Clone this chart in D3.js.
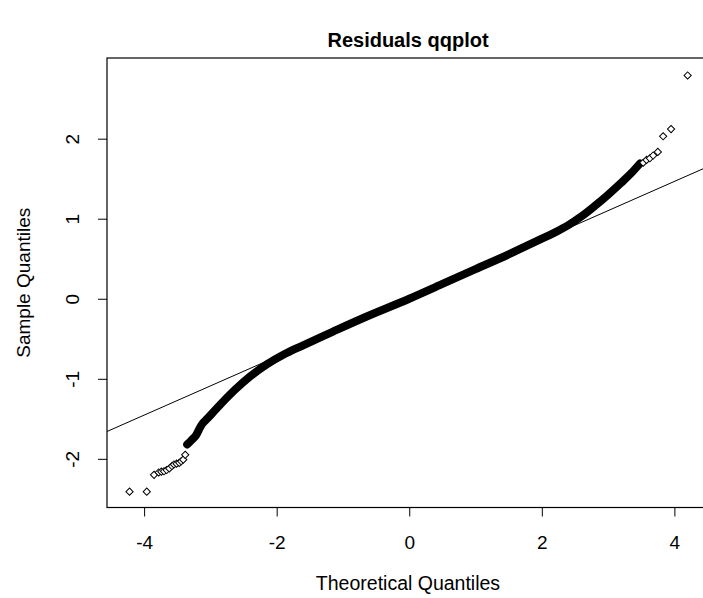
<!DOCTYPE html>
<html>
<head>
<meta charset="utf-8">
<script src="https://cdn.jsdelivr.net/npm/d3@7"></script>
<style>
  body { margin: 0; background: #fff; }
  text { font-family: "Liberation Sans", Arial, sans-serif; fill: #000; }
</style>
</head>
<body>
<div id="chart"></div>
<script>
// Values (theoretical, sample)
const lowerTail = [
  [-4.22, -2.41], [-3.96, -2.41], [-3.85, -2.20], [-3.78, -2.17], [-3.74, -2.16],
  [-3.70, -2.155], [-3.66, -2.14], [-3.62, -2.12], [-3.58, -2.09], [-3.55, -2.07],
  [-3.51, -2.06], [-3.47, -2.05], [-3.44, -2.03], [-3.41, -2.01], [-3.38, -1.95]
];
const denseBand = [
  [-3.35, -1.82], [-3.29, -1.77], [-3.22, -1.71], [-3.17, -1.63], [-3.12, -1.56],
  [-3.05, -1.50], [-2.86, -1.33], [-2.62, -1.13], [-2.40, -0.97], [-2.15, -0.82],
  [-1.90, -0.70], [-1.65, -0.60], [-1.15, -0.41], [-0.65, -0.225], [0, 0],
  [0.5, 0.185], [1.0, 0.37], [1.5, 0.555], [2.0, 0.75], [2.2, 0.83],
  [2.4, 0.92], [2.6, 1.03], [2.8, 1.16], [3.0, 1.30], [3.2, 1.45],
  [3.35, 1.57], [3.48, 1.69]
];
const upperTail = [
  [3.53, 1.70], [3.58, 1.735], [3.63, 1.755], [3.68, 1.79], [3.75, 1.835],
  [3.83, 2.03], [3.95, 2.12], [4.20, 2.79]
];
// reference line (qqline)
const lineIntercept = 0.006;
const lineSlope = 0.365;

const xTicks = [-4, -2, 0, 2, 4];
const yTicks = [-2, -1, 0, 1, 2];

const W = 703, H = 598;
const plot = {left: 107, top: 58, right: 711.5, bottom: 507.5};

const svg = d3.select("#chart").append("svg")
    .attr("width", W)
    .attr("height", H);

const x = d3.scaleLinear().domain([-4.56, 4.56]).range([plot.left, plot.right]);
const y = d3.scaleLinear().domain([-2.608, 3.008]).range([plot.bottom, plot.top]);

// Title
svg.append("text")
    .attr("x", 408)
    .attr("y", 47)
    .attr("text-anchor", "middle")
    .style("font-size", "20px")
    .style("font-weight", "bold")
    .text("Residuals qqplot");

// Plot box
svg.append("rect")
    .attr("x", plot.left)
    .attr("y", plot.top)
    .attr("width", plot.right - plot.left)
    .attr("height", plot.bottom - plot.top)
    .attr("fill", "none")
    .attr("stroke", "#000")
    .attr("stroke-width", 1.2);

const fmt = d => String(d);

// X axis
const xAxis = svg.append("g")
    .attr("transform", `translate(0,${plot.bottom})`)
    .call(d3.axisBottom(x).tickValues(xTicks).tickSize(9).tickPadding(19).tickFormat(fmt));
xAxis.select(".domain").remove();
xAxis.selectAll("text").style("font-size", "19px").attr("fill", "#111");

// Y axis (labels parallel to axis)
const yAxis = svg.append("g")
    .attr("transform", `translate(${plot.left},0)`)
    .call(d3.axisLeft(y).tickValues(yTicks).tickSize(9).tickFormat(fmt));
yAxis.select(".domain").remove();
yAxis.selectAll("text")
    .attr("x", null)
    .attr("text-anchor", "middle")
    .attr("transform", "translate(-35,0) rotate(-90)")
    .attr("dy", "0.35em")
    .style("font-size", "19px")
    .attr("fill", "#111");

// Axis labels
svg.append("text")
    .attr("x", 408)
    .attr("y", 590)
    .attr("text-anchor", "middle")
    .style("font-size", "19.5px")
    .attr("fill", "#111")
    .text("Theoretical Quantiles");

svg.append("text")
    .attr("transform", `translate(30,${(plot.top + plot.bottom) / 2}) rotate(-90)`)
    .attr("text-anchor", "middle")
    .style("font-size", "19px")
    .attr("fill", "#111")
    .text("Sample Quantiles");

// Clip to plot area
svg.append("clipPath").attr("id", "clip")
  .append("rect")
    .attr("x", plot.left).attr("y", plot.top)
    .attr("width", plot.right - plot.left).attr("height", plot.bottom - plot.top);

const g = svg.append("g").attr("clip-path", "url(#clip)");

// qqline
const xd = x.domain();
g.append("line")
    .attr("x1", x(xd[0])).attr("y1", y(lineIntercept + lineSlope * xd[0]))
    .attr("x2", x(xd[1])).attr("y2", y(lineIntercept + lineSlope * xd[1]))
    .attr("stroke", "#000")
    .attr("stroke-width", 1);

// Dense run of overlapping points
const band = d3.line()
    .x(d => x(d[0]))
    .y(d => y(d[1]))
    .curve(d3.curveCatmullRom);

g.append("path")
    .datum(denseBand)
    .attr("d", band)
    .attr("fill", "none")
    .attr("stroke", "#000")
    .attr("stroke-width", 8)
    .attr("stroke-linecap", "round")
    .attr("stroke-linejoin", "round");

// Sparse tail points, drawn as small open diamonds
const marker = d3.symbol().type(d3.symbolSquare).size(26);
g.selectAll(".pt")
    .data(lowerTail.concat(upperTail))
    .join("path")
    .attr("class", "pt")
    .attr("d", marker)
    .attr("transform", d => `translate(${x(d[0])},${y(d[1])}) rotate(45)`)
    .attr("fill", "#fff")
    .attr("stroke", "#000")
    .attr("stroke-width", 1);
</script>
</body>
</html>
